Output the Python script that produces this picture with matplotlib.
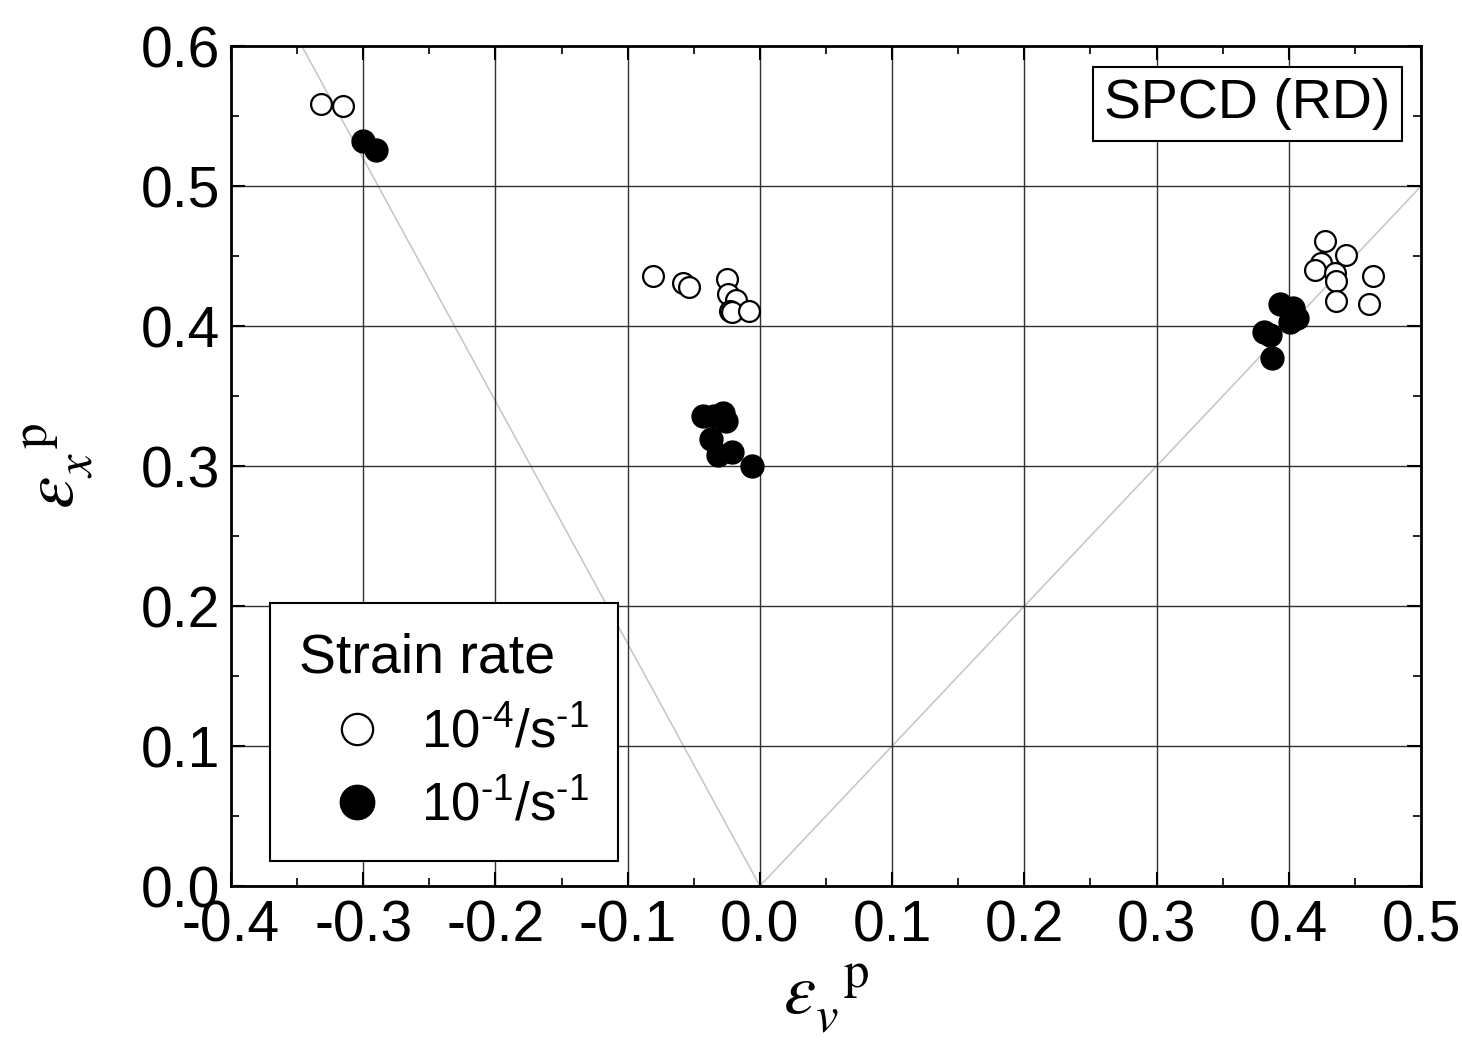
import numpy as np
import matplotlib.pyplot as plt
from matplotlib.ticker import MultipleLocator

plt.rcParams['font.family'] = ['Liberation Sans', 'DejaVu Sans']
plt.rcParams['mathtext.fontset'] = 'custom'
plt.rcParams['mathtext.rm'] = 'Liberation Sans'
plt.rcParams['mathtext.it'] = 'Liberation Sans:italic'
plt.rcParams['axes.unicode_minus'] = False

# strain rate 1e-4 /s (open)
slow_ev = [-0.332, -0.315,
           -0.081, -0.058, -0.054, -0.025, -0.024, -0.018, -0.023, -0.021, -0.008,
           0.427, 0.443, 0.424, 0.420, 0.435, 0.436, 0.464, 0.436, 0.461]
slow_ex = [0.559, 0.557,
           0.436, 0.431, 0.428, 0.434, 0.423, 0.419, 0.411, 0.410, 0.411,
           0.461, 0.451, 0.445, 0.440, 0.438, 0.432, 0.436, 0.418, 0.416]

# strain rate 1e-1 /s (filled)
fast_ev = [-0.300, -0.290,
           -0.043, -0.035, -0.028, -0.026, -0.037, -0.032, -0.021, -0.006,
           0.393, 0.403, 0.406, 0.401, 0.381, 0.386, 0.387]
fast_ex = [0.532, 0.526,
           0.336, 0.336, 0.338, 0.332, 0.319, 0.308, 0.310, 0.300,
           0.416, 0.413, 0.406, 0.403, 0.396, 0.394, 0.377]

fig = plt.figure(figsize=(14.62, 10.42), dpi=100)
ax = fig.add_axes([0.158, 0.1497, 0.814, 0.806])

# reference lines: y = -sqrt(3) x and y = x
ref_x_left = np.array([-0.6 / np.sqrt(3), 0.0])
ref_x_right = np.array([0.0, 0.5])
ax.plot(ref_x_left, -np.sqrt(3) * ref_x_left, color='#c8c8c8', lw=1.2, zorder=1)
ax.plot(ref_x_right, ref_x_right, color='#c8c8c8', lw=1.2, zorder=1)

ax.plot(slow_ev, slow_ex, 'o', ms=15, mfc='white', mec='black', mew=1.6,
        label=r'10$^{\text{-}4}$/s$^{\text{-}1}$', zorder=3)
ax.plot(fast_ev, fast_ex, 'o', ms=16.5, mfc='black', mec='black', mew=1,
        label=r'10$^{\text{-}1}$/s$^{\text{-}1}$', zorder=3)

ax.set_xlim(-0.4, 0.5)
ax.set_ylim(0.0, 0.6)
ax.xaxis.set_major_locator(MultipleLocator(0.1))
ax.xaxis.set_minor_locator(MultipleLocator(0.05))
ax.yaxis.set_major_locator(MultipleLocator(0.1))
ax.yaxis.set_minor_locator(MultipleLocator(0.05))
ax.xaxis.set_major_formatter(lambda v, p: f'{v:.1f}')
ax.yaxis.set_major_formatter(lambda v, p: f'{v:.1f}')
ax.grid(True, which='major', color='#303030', lw=1.0, zorder=0)
ax.tick_params(which='both', direction='in', top=True, right=True, labelsize=41)
ax.tick_params(axis='x', pad=10)
ax.tick_params(axis='y', pad=8)
ax.tick_params(which='major', length=10, width=1.5)
ax.tick_params(which='minor', length=6, width=1.2)
for s in ax.spines.values():
    s.set_linewidth(2)

ax.set_xlabel(r'$\varepsilon_{v}^{\ \ \mathrm{p}}$', fontsize=52, math_fontfamily='stix', labelpad=6)
ax.set_ylabel(r'$\varepsilon_{x}^{\ \ \mathrm{p}}$', fontsize=52, math_fontfamily='stix', labelpad=32)

leg = ax.legend(title='Strain rate', loc='lower left', bbox_to_anchor=(0.033, 0.03),
                fontsize=38, title_fontsize=40, frameon=True, fancybox=False,
                edgecolor='black', framealpha=1, markerscale=1.5, handletextpad=0.1,
                handlelength=2.2, borderpad=0.55, labelspacing=0.45, borderaxespad=0)
leg.get_frame().set_linewidth(1.5)
leg._legend_box.align = 'left'

ax.text(0.854, 0.9315, 'SPCD (RD)', transform=ax.transAxes, fontsize=40,
        ha='center', va='center',
        bbox=dict(boxstyle='square,pad=0.2', fc='white', ec='black', lw=1.5), zorder=5)

fig.savefig('out.png', dpi=100)
